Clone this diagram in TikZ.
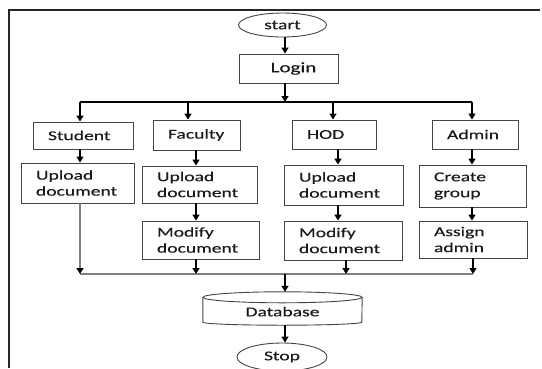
\documentclass[tikz,border=0pt]{standalone}
\usepackage{fontspec}
\setmainfont{Carlito}[FakeStretch=1.45,FakeBold=0.3]
\usetikzlibrary{shapes.geometric,arrows.meta}
\definecolor{boxgray}{HTML}{444444}
\definecolor{linegray}{HTML}{808080}
\definecolor{txt}{HTML}{1A1A1A}
\begin{document}
\begin{tikzpicture}[x=1pt,y=-1pt,
  every node/.style={font=\fontsize{13.5}{16}\selectfont, text=txt},
  box/.style={draw=boxgray, line width=0.9pt, inner xsep=15pt, inner ysep=0pt, align=left},
  oval/.style={ellipse, draw=boxgray, line width=0.9pt, inner sep=0pt},
  arr/.style={draw=black, line width=1.3pt, -{Triangle[length=6pt,width=7pt]}},
  garr/.style={draw=linegray, line width=1.3pt, -{Triangle[length=6pt,width=7pt,color=black]}},
  ln/.style={draw=black, line width=1.2pt},
  gln/.style={draw=linegray, line width=1.3pt}]
\useasboundingbox (0,0) rectangle (542,368);
% frame
\draw[line width=2pt, draw=black!85] (9,368) -- (9,10) -- (540,10);

% nodes
\node[oval, minimum width=88pt, minimum height=24pt] (start) at (282.5,25) {start};
\node[draw=boxgray, line width=0.9pt, minimum width=99pt, minimum height=29pt, inner sep=0pt, font=\fontsize{14.5}{16}\selectfont] (login) at (288.5,68.5) {\hspace*{10pt}Login};

\node[box, text width=70pt, minimum height=27pt] (student) at (83,135.5) {Student};
\node[box, text width=83pt, minimum height=40pt] (supl) at (77.5,183) {Upload\\document};

\node[box, text width=57pt, minimum height=30pt] (faculty) at (196.5,135) {Faculty};
\node[box, text width=85pt, minimum height=37pt] (fupl) at (199.5,184.5) {Upload\\document};
\node[box, text width=87pt, minimum height=38pt] (fmod) at (200.5,240) {Modify\\document};

\node[box, text width=54pt, minimum height=29pt] (hod) at (334,134.5) {HOD};
\node[box, text width=89pt, minimum height=40pt] (hupl) at (343.5,185) {Upload\\document};
\node[box, text width=88pt, minimum height=39pt] (hmod) at (343,240.5) {Modify\\document};

\node[box, text width=56pt, minimum height=29pt] (admin) at (475,134.5) {Admin};
\node[box, text width=77pt, minimum height=42pt] (cgrp) at (472.5,186) {Create\\group};
\node[box, text width=78pt, minimum height=37pt] (asgn) at (473,239.5) {Assign\\admin};

\node[minimum width=159pt, minimum height=33pt, inner sep=0pt] (db) at (282.5,308.5) {\raisebox{-7.8pt}[0pt][0pt]{Database}};
\draw[draw=boxgray, line width=0.9pt] ([yshift=-5.5pt]db.north) ellipse [x radius=79.5pt, y radius=5.5pt];
\draw[draw=boxgray, line width=0.9pt] ([yshift=-5.5pt]db.north west) -- ([yshift=3pt]db.south west)
  arc[start angle=180, end angle=360, x radius=79.5pt, y radius=3pt] -- ([yshift=-5.5pt]db.north east);

\node[oval, minimum width=90pt, minimum height=28pt] (stop) at (282,357) {Stop};

% coordinates
\coordinate (br) at (285,102);
\coordinate (b1) at (80,102);
\coordinate (b2) at (188,102);
\coordinate (b3) at (333,102);
\coordinate (b4) at (472,102);
\coordinate (c2) at (196,0);
\coordinate (c3) at (338,0);
\coordinate (m1) at (80,274);
\coordinate (m2) at (196,274);
\coordinate (m3) at (346,274);
\coordinate (m4) at (473,274);
\coordinate (md) at (285,274);

% top connectors
\draw[arr] ([xshift=2.5pt]start.south) -- ([xshift=2.5pt]start.south |- login.north);
\draw[arr] (login.south -| br) -- (br);
\draw[ln] (b1) -- (b4);
\draw[arr] (b1) -- (student.north -| b1);
\draw[arr] (b2) -- (faculty.north -| b2);
\draw[arr] (b3) -- (hod.north -| b3);
\draw[arr] (b4) -- (admin.north -| b4);

% column connectors
\draw[arr] (student.south -| b1) -- (supl.north -| b1);
\draw[arr] (faculty.south -| c2) -- (fupl.north -| c2);
\draw[arr] (fupl.south -| c2) -- (fmod.north -| c2);
\draw[arr] (hod.south -| c3) -- (hupl.north -| c3);
\draw[arr] (hupl.south -| c3) -- (hmod.north -| c3);
\draw[arr] (admin.south -| b4) -- (cgrp.north -| b4);
\draw[arr] (cgrp.south -| b4) -- (asgn.north -| b4);

% bottom connectors
\draw[gln] (m1) -- (m4);
\draw[garr] (supl.south -| m1) -- (m1);
\draw[arr] (fmod.south -| m2) -- (m2);
\draw[arr] (hmod.south -| m3) -- (m3);
\draw[arr] (asgn.south -| m4) -- (m4);
\draw[arr] (md) -- (db.north -| md);
\draw[arr] (db.south -| md) -- (stop.north -| md);
\end{tikzpicture}
\end{document}
